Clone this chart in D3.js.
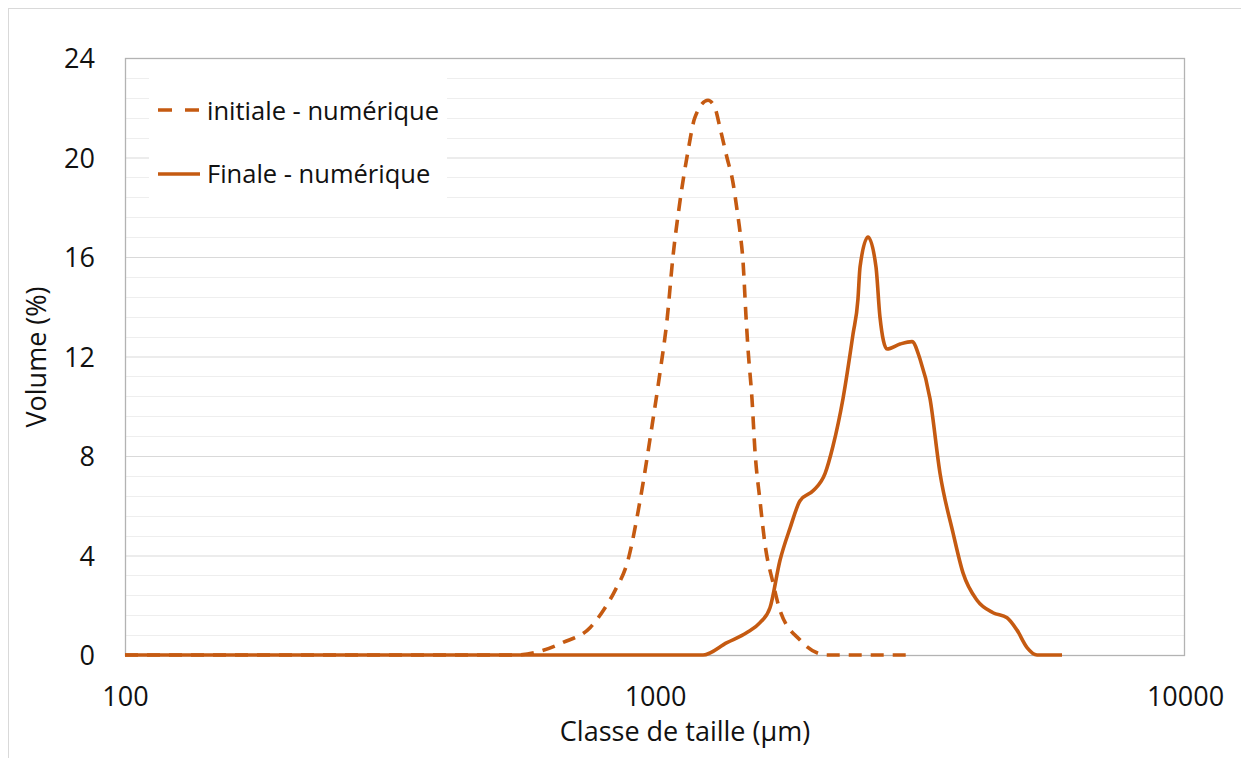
<!DOCTYPE html>
<html>
<head>
<meta charset="utf-8">
<script src="https://cdn.jsdelivr.net/npm/d3@7"></script>
<style>
  body { margin: 0; background: #fff; }
  svg { display: block; font-family: "Open Sans", sans-serif; }
</style>
</head>
<body>
<svg id="chart" width="1241" height="758"></svg>
<script>
// ---- data ----
const seriesNames = ["initiale - numérique", "Finale - numérique"];

const initialeSize = [100, 540, 607, 670, 754, 805, 841, 889, 937, 987, 1021, 1054, 1081, 1114, 1153, 1189, 1259, 1297, 1326, 1367, 1403, 1428, 1447, 1466, 1485, 1498, 1524, 1544, 1578, 1614, 1670, 1721, 1878, 2113, 3055];
const initialeVal  = [0,   0,   0.15, 0.5, 1.1, 1.9, 2.6, 3.8, 6.2, 9.2, 11.3, 13.5, 16.0, 18.2, 20.2, 21.6, 22.3, 22.0, 21.2, 20.0, 19.0, 17.9, 17.0, 15.8, 13.6, 12.3, 10.3, 8.2, 6.2, 4.4, 2.9, 1.8, 0.6, 0, 0];

const finaleSize = [100, 1232, 1367, 1491, 1578, 1648, 1721, 1798, 1878, 1987, 2094, 2167, 2263, 2364, 2415, 2437, 2523, 2612, 2657, 2740, 2900, 3054, 3162, 3303, 3450, 3651, 3812, 4051, 4343, 4616, 4820, 5035, 5258, 5861];
const finaleVal  = [0,   0,    0.5,  0.9,  1.3,  1.9,  3.8,  5.1,  6.2,  6.6,  7.3,  8.4,  10.3, 12.9, 14.3, 15.6, 16.8, 15.6, 13.6, 12.3, 12.5, 12.6, 11.9, 10.3, 7.3, 4.9, 3.3, 2.2, 1.7, 1.5, 1.0, 0.3, 0, 0];

const xTicks = [100, 1000, 10000];
const yTicks = [0, 4, 8, 12, 16, 20, 24];
const xTitle = "Classe de taille (µm)";
const yTitle = "Volume (%)";

// ---- layout ----
const svg = d3.select("#chart");
const L = 125, R = 1185, T = 58, B = 655;
const color = "#c55a11";

// outer chart border
svg.append("rect").attr("x", 8.5).attr("y", 8.5).attr("width", 1250).attr("height", 800)
  .attr("fill", "none").attr("stroke", "#d9d9d9").attr("stroke-width", 1);

const x = d3.scaleLog().domain([100, 10000]).range([L, R]);
const y = d3.scaleLinear().domain([0, 24]).range([B, T]);

// minor gridlines
const minor = d3.range(0, 24.001, 0.8).filter(v => Math.abs(v / 4 - Math.round(v / 4)) > 1e-6);
svg.append("g").selectAll("line").data(minor).join("line")
  .attr("x1", L).attr("x2", R)
  .attr("y1", d => Math.round(y(d)) + 0.5).attr("y2", d => Math.round(y(d)) + 0.5)
  .attr("stroke", "#eeeeee").attr("stroke-width", 1);

// major gridlines via axis
const yGrid = svg.append("g").attr("transform", `translate(${L},0)`)
  .call(d3.axisLeft(y).tickValues(yTicks).tickSize(-(R - L)).tickFormat(""));
yGrid.select(".domain").remove();
yGrid.selectAll("line").attr("stroke", "#d9d9d9");

// plot frame
svg.append("rect").attr("x", L + 0.5).attr("y", T + 0.5).attr("width", R - L - 1).attr("height", B - T)
  .attr("fill", "none").attr("stroke", "#b3b3b3").attr("stroke-width", 1.3);

// y axis labels
const yAx = svg.append("g").attr("transform", `translate(${L - 30},0)`)
  .call(d3.axisLeft(y).tickValues(yTicks).tickSize(0).tickPadding(0));
yAx.select(".domain").remove();
yAx.selectAll("text").attr("font-family", "Open Sans").attr("font-size", 27)
  .attr("fill", "#111").attr("dy", "0.36em");

// x axis labels
const xAx = svg.append("g").attr("transform", `translate(0,${B})`)
  .call(d3.axisBottom(x).tickValues(xTicks).tickSize(0).tickPadding(0).tickFormat(d3.format("d")));
xAx.select(".domain").remove();
xAx.selectAll("text").attr("font-family", "Open Sans").attr("font-size", 27)
  .attr("fill", "#111").attr("dy", null).attr("y", 51);

// titles
svg.append("text").attr("x", 685).attr("y", 741).attr("text-anchor", "middle")
  .attr("font-size", 27).attr("fill", "#111").text(xTitle);
svg.append("text").attr("transform", "translate(46,357) rotate(-90)").attr("text-anchor", "middle")
  .attr("font-size", 27).attr("fill", "#111").text(yTitle);

// lines
const line = d3.line().x(d => x(d[0])).y(d => y(d[1])).curve(d3.curveMonotoneX);
const initData = initialeSize.map((s, i) => [s, initialeVal[i]]);
const finData = finaleSize.map((s, i) => [s, finaleVal[i]]);

svg.append("path").datum(finData).attr("d", line)
  .attr("fill", "none").attr("stroke", color).attr("stroke-width", 3.6).attr("stroke-linejoin", "round");
svg.append("path").datum(initData).attr("d", line)
  .attr("fill", "none").attr("stroke", color).attr("stroke-width", 3.6)
  .attr("stroke-dasharray", "13,9");

// legend
const leg = svg.append("g");
leg.append("rect").attr("x", 149).attr("y", 72).attr("width", 298).attr("height", 134).attr("fill", "#fff");
const legItems = [
  { name: seriesNames[0], dash: "14,13", ly: 110, ty: 120 },
  { name: seriesNames[1], dash: null, ly: 174, ty: 183 }
];
legItems.forEach(it => {
  const ln = leg.append("line").attr("x1", 158).attr("x2", 200).attr("y1", it.ly).attr("y2", it.ly)
    .attr("stroke", color).attr("stroke-width", 3.6);
  if (it.dash) ln.attr("stroke-dasharray", it.dash);
  leg.append("text").attr("x", 207).attr("y", it.ty).attr("font-size", 25.5)
    .attr("fill", "#111").text(it.name);
});
</script>
</body>
</html>
